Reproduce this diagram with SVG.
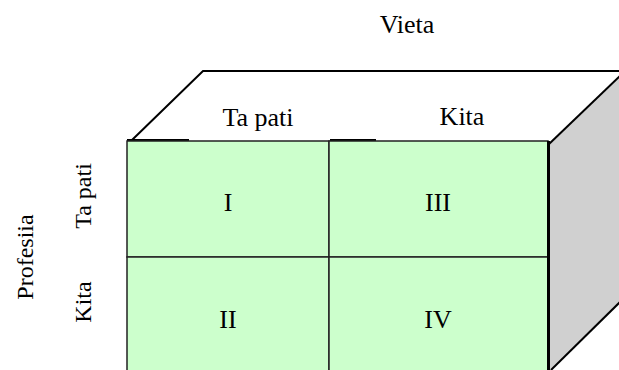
<svg xmlns="http://www.w3.org/2000/svg" width="619" height="370" viewBox="0 0 619 370">
<style>
text{font-family:"Liberation Serif","Times New Roman",serif;font-size:26px;fill:#000;text-anchor:middle}
.rot{font-size:24px}
.cell{fill:#ccffcc;stroke:#222;stroke-width:1.5}
.edge{fill:none;stroke:#000;stroke-width:2}
</style>
<rect width="619" height="370" fill="#fff"/>
<g id="side">
<polygon points="549,145 621,75 621,301 551,370 549,370" fill="#d0d0d0"/>
<line class="edge" x1="548" y1="145" x2="621" y2="75"/>
<line class="edge" x1="551" y1="370" x2="621" y2="301"/>
</g>
<g id="top">
<polyline class="edge" points="132,140 203,71 621,71"/>
<line class="edge" x1="127" y1="140" x2="189" y2="140"/>
<line class="edge" x1="330" y1="140" x2="376" y2="140"/>
</g>
<g id="cell-I"><rect class="cell" x="127" y="141" width="202" height="116"/><text x="228" y="211">I</text></g>
<g id="cell-III"><rect class="cell" x="329" y="141" width="219" height="116"/><text x="438" y="211">III</text></g>
<g id="cell-II"><rect class="cell" x="127" y="257" width="202" height="116"/><text x="228" y="328">II</text></g>
<g id="cell-IV"><rect class="cell" x="329" y="257" width="219" height="116"/><text x="438" y="328">IV</text></g>
<g id="front-edge"><line x1="548.5" y1="141" x2="548.5" y2="370" stroke="#000" stroke-width="3"/></g>
<g id="labels">
<text x="407" y="33">Vieta</text>
<text x="258" y="126">Ta pati</text>
<text x="462" y="125">Kita</text>
<text class="rot" transform="translate(91,196) rotate(-90)">Ta pati</text>
<text class="rot" transform="translate(91,302) rotate(-90)">Kita</text>
<text class="rot" transform="translate(33,257) rotate(-90)">Profesiia</text>
</g>
</svg>
